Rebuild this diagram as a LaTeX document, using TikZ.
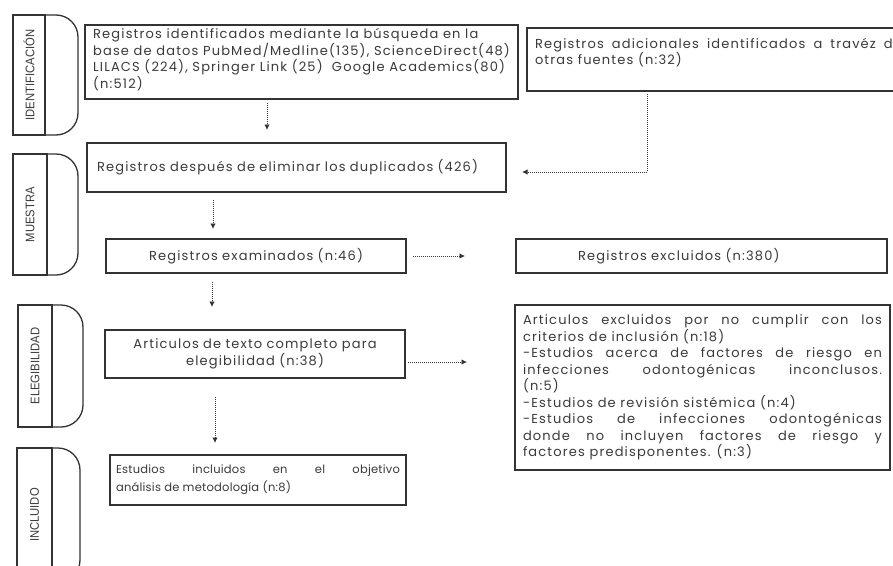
\documentclass[tikz,border=0pt]{standalone}
\usepackage{fontspec}
\setmainfont{Poppins}[LetterSpace=9]
\newfontfamily\smallboxfont{Poppins}[LetterSpace=2]
\newfontfamily\stagefont{Liberation Sans}[FakeStretch=0.9]
\usetikzlibrary{arrows.meta}
\definecolor{ink}{HTML}{333333}
\definecolor{txt}{HTML}{3A3A3A}
\setlength\parindent{0pt}
\begin{document}
\begin{tikzpicture}[x=1pt,y=-1pt,
  box/.style={draw=ink, line width=1.6pt, inner ysep=0pt, text=txt, outer sep=0pt, anchor=north west,
    font=\fontsize{13}{16.5}\selectfont},
  flow/.style={draw=ink, line width=0.9pt, dash pattern=on 1pt off 1pt, -{Latex[length=5.5pt,width=5.5pt]}},
  stage/.style={draw=ink, line width=1.3pt},
  stagetxt/.style={rotate=90, text=txt, inner sep=0pt, font=\stagefont\fontsize{12.5}{13}\selectfont}
]
\clip (0,0) rectangle (893,565);
\fill[white] (0,0) rectangle (893,565);

% stage labels
\draw[stage] (13,15) rectangle (45,135);
\draw[stage, rounded corners=22pt] (45,15) -- (78,15) -- (78,135) -- (45,135);
\node[stagetxt] (s1) at (29,75) {IDENTIFICACIÓN};
\draw[stage] (13,154) rectangle (47,275);
\draw[stage, rounded corners=22pt] (47,154) -- (78,154) -- (78,275) -- (47,275);
\node[stagetxt] (s2) at (30,214.5) {MUESTRA};
\draw[stage] (18,305) rectangle (52,427);
\draw[stage, rounded corners=22pt] (52,305) -- (83,305) -- (83,427) -- (52,427);
\node[stagetxt] (s3) at (35,366) {ELEGIBILIDAD};
\draw[stage] (17,448) rectangle (52,582);
\draw[stage, rounded corners=22pt] (52,448) -- (80,448) -- (80,582) -- (52,582);
\node[stagetxt] (s4) at (34.5,515) {INCLUIDO};

% boxes
\node[box, inner xsep=2pt, minimum width=433pt, minimum height=74pt, align=left] (b1) at (85,25)
  {Registros identificados mediante la búsqueda en la\\
   base de datos PubMed/Medline(135), ScienceDirect(48)\\
   LILACS (224), Springer Link (25)~~Google Academics(80)\\
   (n:512)\\[-9.5pt]};
\node[box, inner xsep=8pt, text width=367pt, minimum height=63pt, align=justify] (b2) at (527,28)
  {Registros adicionales identificados a travéz de\linebreak otras fuentes (n:32)\\ \mbox{}};
\node[box, inner xsep=10pt, text width=399pt, minimum height=49pt, align=left] (b3) at (87,143)
  {Registros después de eliminar los duplicados (426)\\[-8pt]};
\node[box, inner xsep=4pt, text width=292pt, minimum height=34pt, align=center] (b4) at (106,239)
  {Registros examinados (n:46)};
\node[box, inner xsep=4pt, text width=363pt, minimum height=34pt, align=left] (b5) at (516,239)
  {\hspace*{58pt}Registros excluidos (n:380)};
\node[box, inner xsep=4pt, text width=292pt, minimum height=48pt, align=center] (b6) at (105,330)
  {Articulos de texto completo para\\ elegibilidad (n:38)};
\node[box, inner xsep=8pt, text width=359pt, minimum height=165pt, align=justify] (b7) at (515,305)
  {Articulos excluidos por no cumplir con los\linebreak criterios de inclusión (n:18)\par
   -Estudios acerca de factores de riesgo en\linebreak infecciones odontogénicas inconclusos.\linebreak (n:5)\par
   -Estudios de revisión sistémica (n:4)\par
   -Estudios de infecciones odontogénicas\linebreak donde no incluyen factores de riesgo y\linebreak factores predisponentes. (n:3)};
\node[box, inner xsep=6pt, text width=284pt, minimum height=50pt, align=justify,
      font=\smallboxfont\fontsize{11.5}{18}\selectfont] (b8) at (110,455)
  {Estudios incluidos en el objetivo\linebreak análisis de metodología (n:8)};

% connector helpers
\coordinate (a1x) at (267,0);
\coordinate (a2x) at (647,0);
\coordinate (a2y) at (0,172);
\coordinate (a3x) at (213,0);
\coordinate (a5x) at (212,0);
\coordinate (a6y) at (0,362);
\coordinate (a7x) at (215,0);

\draw[flow, shorten <=4pt, shorten >=13pt] (b1.south -| a1x) -- (b3.north -| a1x);
\draw[flow, shorten <=3pt, shorten >=16pt] (b2.south -| a2x) |- (b3.east |- a2y);
\draw[flow, shorten <=8pt, shorten >=10pt] (b3.south -| a3x) -- (b4.north -| a3x);
\draw[flow, shorten <=7pt, shorten >=51pt] (b4.east) -- (b5.west);
\draw[flow, shorten <=9pt, shorten >=23pt] (b4.south -| a5x) -- (b6.north -| a5x);
\draw[flow, shorten <=3pt, shorten >=48pt] (b6.east |- a6y) -- (b7.west |- a6y);
\draw[flow, shorten <=19pt, shorten >=12pt] (b6.south -| a7x) -- (b8.north -| a7x);
\end{tikzpicture}
\end{document}
